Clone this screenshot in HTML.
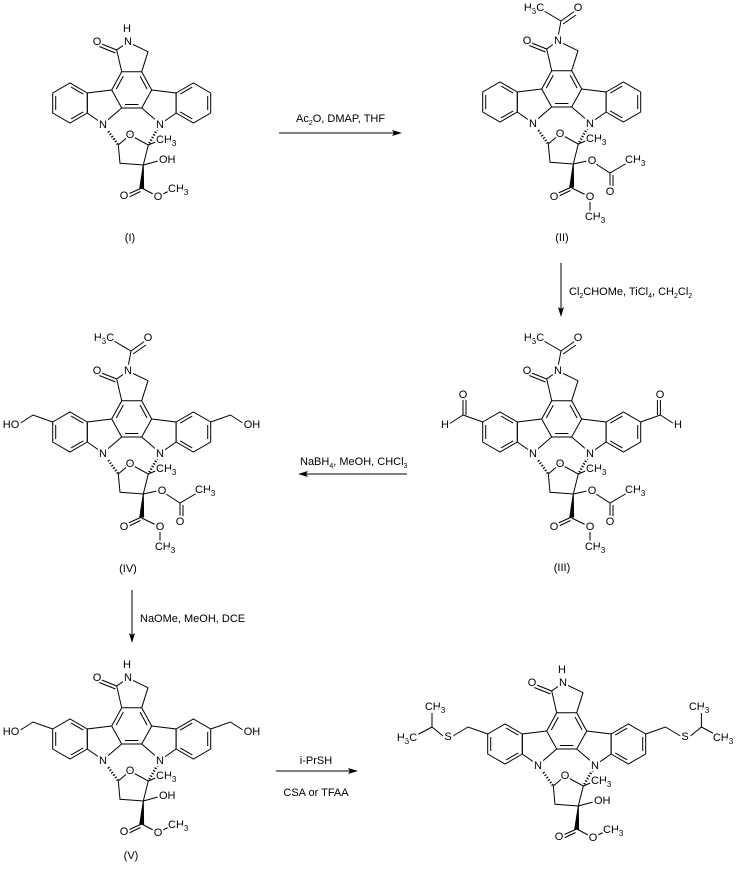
<!DOCTYPE html>
<html><head><meta charset="utf-8"><style>
html,body{margin:0;padding:0;background:#fff}
svg{display:block}
text{font-family:"Liberation Sans",sans-serif;font-size:11px;fill:#000}
.l text{stroke:#fff;stroke-width:4;paint-order:stroke;dominant-baseline:central;text-anchor:middle}
.l text.s{text-anchor:start}
.l text.e{text-anchor:end}
</style></head><body>
<svg width="737" height="869" viewBox="0 0 737 869" xmlns="http://www.w3.org/2000/svg">
<defs>
<g id="core" stroke="#000" stroke-width="1" fill="none">
<polygon points="121.7,71.7 141.7,71.7 151.7,90 141.7,108 121.7,108 111.7,90"/>
<line x1="123.3" y1="76.1" x2="116.3" y2="89"/>
<line x1="140.1" y1="76.1" x2="147.1" y2="89"/>
<line x1="125" y1="104.5" x2="138.4" y2="104.5"/>
<polyline points="121.7,71.7 116.7,50 128,42 148,51.7 141.7,71.7"/>
<line x1="116.7" y1="50" x2="98" y2="42.5"/>
<line x1="115.5" y1="53" x2="98" y2="46"/>
<polyline points="111.7,90 87.3,93 87.3,113 103,124 121.7,108"/>
<polygon points="87.3,93 70,83 52.7,93 52.7,113 70,123 87.3,113"/>
<line x1="83.2" y1="94.1" x2="71.1" y2="87.1"/>
<line x1="55.7" y1="96" x2="55.7" y2="110"/>
<line x1="71.1" y1="118.9" x2="83.2" y2="111.9"/>
<g transform="translate(263.4,0) scale(-1,1)">
<polyline points="151.7,90 176.1,93 176.1,113 160.4,124 141.7,108" transform="translate(263.4,0) scale(-1,1)"/>
<polygon points="87.3,93 70,83 52.7,93 52.7,113 70,123 87.3,113"/>
<line x1="83.2" y1="94.1" x2="71.1" y2="87.1"/>
<line x1="55.7" y1="96" x2="55.7" y2="110"/>
<line x1="71.1" y1="118.9" x2="83.2" y2="111.9"/>
</g>
<line x1="103" y1="124" x2="118.3" y2="145" stroke-width="2.5" stroke-dasharray="1.2,1.8"/>
<line x1="160.4" y1="124" x2="148.3" y2="145" stroke-width="2.5" stroke-dasharray="1.2,1.8"/>
<polyline points="118.3,145 130,135 148.3,145 143.3,165 120,163.3 118.3,145"/>
<line x1="148.3" y1="145" x2="160" y2="140"/>
<polygon points="143.3,165 139.8,188 143.6,188" fill="#000"/>
<line x1="141.7" y1="188" x2="126" y2="195"/>
<line x1="140.5" y1="191.5" x2="127" y2="198"/>
</g>
<g id="estA" stroke="#000" fill="none"><line x1="141.7" y1="188" x2="155" y2="195"/><line x1="161" y1="195" x2="171" y2="190"/></g>
<g id="estB" stroke="#000" fill="none"><line x1="141.7" y1="189" x2="156" y2="196"/><line x1="160" y1="201" x2="160" y2="213"/></g>
<g id="oh" stroke="#000"><line x1="143.3" y1="165" x2="158" y2="161"/></g>
<g id="oac" stroke="#000" fill="none"><line x1="143.3" y1="165" x2="157" y2="162"/><polyline points="166,165 180,174 197,164"/><line x1="180" y1="174" x2="180" y2="188"/><line x1="183" y1="176" x2="183" y2="188"/></g>
<g id="nac" stroke="#000" fill="none"><line x1="128" y1="38" x2="131" y2="22"/><line x1="131" y1="22" x2="114" y2="12"/><line x1="131" y1="22" x2="145" y2="12"/><line x1="133" y1="25" x2="146" y2="16"/></g>
<g id="cho" stroke="#000" fill="none"><line x1="52.7" y1="93" x2="33" y2="86"/><line x1="33" y1="86" x2="33" y2="70"/><line x1="36" y1="86" x2="36" y2="71"/><line x1="33" y1="86" x2="19" y2="95"/></g>
<g id="ch2oh" stroke="#000" fill="none"><polyline points="52.7,93 33,86 19,95"/></g>
<g id="ips" stroke="#000" fill="none"><polyline points="52.7,93 33,86 18,95"/><polyline points="8,95 -3,86 -3,72"/><line x1="-3" y1="86" x2="-18" y2="94"/></g>
</defs>

<!-- (I) -->
<g transform="translate(0,0)">
<use href="#core"/><use href="#estA"/><use href="#oh"/>
<g class="l"><text x="97" y="42">O</text><text x="128" y="42">N</text><text x="127" y="29">H</text><text x="103" y="125">N</text><text x="160" y="125">N</text><text x="130" y="135">O</text><text class="s" x="156" y="140">CH<tspan font-size="8" dy="3">3</tspan></text><text class="s" x="159" y="160">OH</text><text x="124" y="196">O</text><text x="158" y="197">O</text><text class="s" x="168" y="189">CH<tspan font-size="8" dy="3">3</tspan></text></g>
</g>
<!-- (II) -->
<g transform="translate(430,-1)">
<use href="#core"/><use href="#estB"/><use href="#oac"/><use href="#nac"/>
<g class="l"><text x="97" y="42">O</text><text x="128" y="42">N</text><text x="103" y="125">N</text><text x="160" y="125">N</text><text x="130" y="135">O</text><text class="s" x="156" y="140">CH<tspan font-size="8" dy="3">3</tspan></text><text x="162" y="162">O</text><text class="s" x="195" y="161">CH<tspan font-size="8" dy="3">3</tspan></text><text x="180" y="193">O</text><text x="124" y="198">O</text><text x="160" y="198">O</text><text x="165" y="218">CH<tspan font-size="8" dy="3">3</tspan></text><text x="104" y="9">H<tspan font-size="8" dy="3">3</tspan><tspan dy="-3">C</tspan></text><text x="148" y="9">O</text></g>
</g>
<!-- (III) -->
<g transform="translate(430,329)">
<use href="#core"/><use href="#estB"/><use href="#oac"/><use href="#nac"/><use href="#cho"/><use href="#cho" transform="translate(263.4,0) scale(-1,1)"/>
<g class="l"><text x="97" y="42">O</text><text x="128" y="42">N</text><text x="103" y="125">N</text><text x="160" y="125">N</text><text x="130" y="135">O</text><text class="s" x="156" y="140">CH<tspan font-size="8" dy="3">3</tspan></text><text x="162" y="162">O</text><text class="s" x="195" y="161">CH<tspan font-size="8" dy="3">3</tspan></text><text x="180" y="193">O</text><text x="124" y="198">O</text><text x="160" y="198">O</text><text x="165" y="218">CH<tspan font-size="8" dy="3">3</tspan></text><text x="104" y="9">H<tspan font-size="8" dy="3">3</tspan><tspan dy="-3">C</tspan></text><text x="148" y="9">O</text><text x="33" y="66">O</text><text x="15" y="96">H</text><text x="230" y="66">O</text><text x="248" y="96">H</text></g>
</g>
<!-- (IV) -->
<g transform="translate(0,329)">
<use href="#core"/><use href="#estB"/><use href="#oac"/><use href="#nac"/><use href="#ch2oh"/><use href="#ch2oh" transform="translate(263.4,0) scale(-1,1)"/>
<g class="l"><text x="97" y="42">O</text><text x="128" y="42">N</text><text x="103" y="125">N</text><text x="160" y="125">N</text><text x="130" y="135">O</text><text class="s" x="156" y="140">CH<tspan font-size="8" dy="3">3</tspan></text><text x="162" y="162">O</text><text class="s" x="195" y="161">CH<tspan font-size="8" dy="3">3</tspan></text><text x="180" y="193">O</text><text x="124" y="198">O</text><text x="160" y="198">O</text><text x="165" y="218">CH<tspan font-size="8" dy="3">3</tspan></text><text x="104" y="9">H<tspan font-size="8" dy="3">3</tspan><tspan dy="-3">C</tspan></text><text x="148" y="9">O</text><text x="11" y="96">HO</text><text x="252" y="96">OH</text></g>
</g>
<!-- (V) -->
<g transform="translate(0,636)">
<use href="#core"/><use href="#estA"/><use href="#oh"/><use href="#ch2oh"/><use href="#ch2oh" transform="translate(263.4,0) scale(-1,1)"/>
<g class="l"><text x="97" y="42">O</text><text x="128" y="42">N</text><text x="127" y="29">H</text><text x="103" y="125">N</text><text x="160" y="125">N</text><text x="130" y="135">O</text><text class="s" x="156" y="140">CH<tspan font-size="8" dy="3">3</tspan></text><text class="s" x="159" y="160">OH</text><text x="124" y="196">O</text><text x="158" y="197">O</text><text class="s" x="168" y="189">CH<tspan font-size="8" dy="3">3</tspan></text><text x="11" y="96">HO</text><text x="252" y="96">OH</text></g>
</g>
<!-- final -->
<g transform="translate(435,641)">
<use href="#core"/><use href="#estA"/><use href="#oh"/><use href="#ips"/><use href="#ips" transform="translate(263.4,0) scale(-1,1)"/>
<g class="l"><text x="97" y="42">O</text><text x="128" y="42">N</text><text x="127" y="29">H</text><text x="103" y="125">N</text><text x="160" y="125">N</text><text x="130" y="135">O</text><text class="s" x="156" y="140">CH<tspan font-size="8" dy="3">3</tspan></text><text class="s" x="159" y="160">OH</text><text x="124" y="196">O</text><text x="158" y="197">O</text><text class="s" x="168" y="189">CH<tspan font-size="8" dy="3">3</tspan></text><text x="13" y="96">S</text><text x="250" y="96">S</text><text x="0" y="66">CH<tspan font-size="8" dy="3">3</tspan></text><text x="264" y="66">CH<tspan font-size="8" dy="3">3</tspan></text><text x="-28" y="97">H<tspan font-size="8" dy="3">3</tspan><tspan dy="-3">C</tspan></text><text x="288" y="97">CH<tspan font-size="8" dy="3">3</tspan></text></g>
</g>

<!-- compound labels -->
<g font-size="11" text-anchor="middle">
<text x="130" y="241">(I)</text><text x="562" y="241">(II)</text><text x="562" y="571">(III)</text><text x="128" y="572">(IV)</text><text x="131" y="859">(V)</text>
</g>

<!-- arrows -->
<g stroke="#000" stroke-width="1">
<line x1="279" y1="133" x2="400" y2="133"/>
<line x1="561" y1="263" x2="561" y2="315"/>
<line x1="300" y1="474" x2="407" y2="474"/>
<line x1="132" y1="590" x2="132" y2="641"/>
<line x1="276" y1="771" x2="356" y2="771"/>
</g>
<g fill="#000">
<polygon points="402,133 392,130 394,133 392,136"/>
<polygon points="561,317 558,307 561,309 564,307"/>
<polygon points="298,474 308,471 306,474 308,477"/>
<polygon points="132,643 129,633 132,635 135,633"/>
<polygon points="358,771 348,768 350,771 348,774"/>
</g>
<g font-size="10">
<text x="296" y="122">Ac<tspan font-size="7" dy="3">2</tspan><tspan dy="-3">O, DMAP, THF</tspan></text>
<text x="569" y="295">Cl<tspan font-size="7" dy="3">2</tspan><tspan dy="-3">CHOMe, TiCl</tspan><tspan font-size="7" dy="3">4</tspan><tspan dy="-3">, CH</tspan><tspan font-size="7" dy="3">2</tspan><tspan dy="-3">Cl</tspan><tspan font-size="7" dy="3">2</tspan></text>
<text x="300" y="465">NaBH<tspan font-size="7" dy="3">4</tspan><tspan dy="-3">, MeOH, CHCl</tspan><tspan font-size="7" dy="3">3</tspan></text>
<text x="140" y="622">NaOMe, MeOH, DCE</text>
<text x="316" y="764" text-anchor="middle">i-PrSH</text>
<text x="316" y="796" text-anchor="middle">CSA or TFAA</text>
</g>
</svg>
</body></html>
